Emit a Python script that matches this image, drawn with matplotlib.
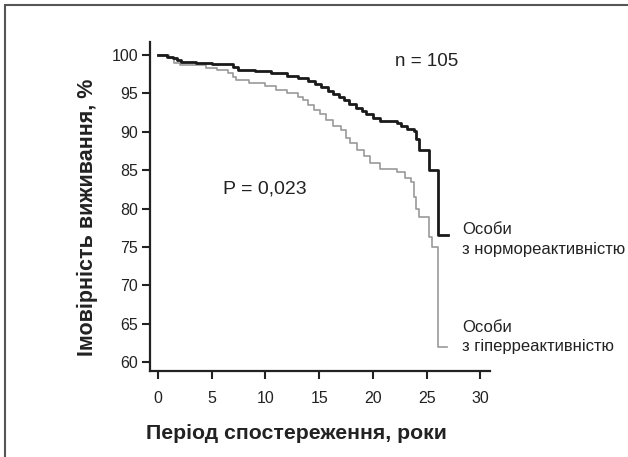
import matplotlib
matplotlib.use("Agg")
import matplotlib.pyplot as plt
from matplotlib.patches import Rectangle

plt.rcParams['font.family'] = ['Liberation Sans', 'DejaVu Sans']

# Data
t_norm = [0, 0.8, 1.4, 1.8, 2.1, 3.5, 5.0, 7.0, 7.4, 9.0, 10.5, 12.0, 13.0, 14.0,
          14.6, 15.2, 15.8, 16.3, 16.8, 17.3, 17.8, 18.4, 19.0, 19.4, 20.0, 20.7,
          22.2, 22.6, 23.2, 23.8, 24.0, 24.25, 25.2, 26.1, 27.0]
s_norm = [100, 99.8, 99.6, 99.3, 99.1, 99.0, 98.8, 98.4, 98.1, 97.9, 97.6, 97.3, 97.0, 96.6,
          96.2, 95.8, 95.3, 94.9, 94.5, 94.1, 93.6, 93.1, 92.7, 92.3, 91.8, 91.4,
          91.1, 90.8, 90.4, 90.1, 89.0, 87.6, 85.0, 76.5, 76.5]

t_hyper = [0, 1.0, 1.5, 2.0, 4.5, 5.5, 6.5, 7.0, 7.3, 8.5, 10.0, 11.0, 12.0, 13.0,
           13.5, 14.0, 14.5, 15.1, 15.6, 16.3, 17.0, 17.5, 17.9, 18.5, 19.2, 19.75,
           20.7, 22.2, 23.0, 23.5, 23.8, 24.0, 24.25, 25.2, 25.5, 26.1, 26.9]
s_hyper = [100, 99.6, 99.0, 98.7, 98.3, 98.0, 97.6, 97.1, 96.7, 96.4, 96.0, 95.5, 95.0, 94.5,
           94.1, 93.5, 92.8, 92.3, 91.6, 90.7, 90.2, 89.2, 88.5, 87.6, 86.8, 85.9,
           85.2, 84.8, 84.0, 83.5, 81.5, 80.0, 78.9, 76.3, 75.0, 62.0, 62.0]

x_ticks = [0, 5, 10, 15, 20, 25, 30]
y_ticks = [60, 65, 70, 75, 80, 85, 90, 95, 100]

fig = plt.figure(figsize=(6.28, 4.57), dpi=100)
ax = fig.add_axes([150/628, 1-371/457, 340/628, 329/457])

ax.step(t_hyper, s_hyper, where='post', color='#999999', lw=1.2)
ax.step(t_norm, s_norm, where='post', color='#1a1a1a', lw=2.0)

ax.set_xlim(-0.75, 30.9)
ax.set_ylim(58.83, 101.7)
ax.set_xticks(x_ticks)
ax.set_yticks(y_ticks)
for s in ['top', 'right']:
    ax.spines[s].set_visible(False)
for s in ['left', 'bottom']:
    ax.spines[s].set_linewidth(1.6)
    ax.spines[s].set_color('#222222')
ax.tick_params(axis='both', length=5.5, width=1.5, color='#222222',
               labelsize=11.5, labelcolor='#222222')
ax.tick_params(axis='x', pad=9)
ax.tick_params(axis='y', pad=3)

ax.set_xlabel('Період спостереження, роки', fontsize=15.3, fontweight='bold',
              color='#222222', labelpad=10)
ax.xaxis.set_label_coords((296 - 150) / 340, -53/329)
ax.set_ylabel('Імовірність виживання, %', fontsize=15.5, fontweight='bold',
              color='#222222', labelpad=12)
ax.yaxis.set_label_coords(-52/340, (371 - 217) / 329)

ax.text(25.0, 99.1, 'n = 105', fontsize=13.5, ha='center', va='center', color='#222222')
ax.text(9.9, 82.5, 'P = 0,023', fontsize=14, ha='center', va='center', color='#222222')

ax.text(28.3, 77.3, 'Особи', fontsize=12, ha='left', va='center', color='#222222')
ax.text(28.3, 74.7, 'з нормореактивністю', fontsize=12, ha='left', va='center', color='#222222')
ax.text(28.3, 64.5, 'Особи', fontsize=12, ha='left', va='center', color='#222222')
ax.text(28.3, 62.0, 'з гіперреактивністю', fontsize=12, ha='left', va='center', color='#222222')

fig.patches.append(Rectangle((5/628, -0.1), 1.2, 1 - 5/457 + 0.1, transform=fig.transFigure,
                             fill=False, edgecolor='#555555', lw=1.5))

fig.savefig('out.png', dpi=100)
